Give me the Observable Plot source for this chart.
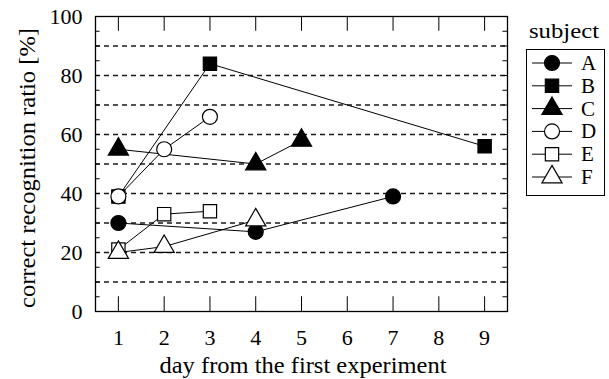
<!DOCTYPE html>
<html>
<head>
<meta charset="utf-8">
<script src="https://cdn.jsdelivr.net/npm/d3@7"></script>
<script src="https://cdn.jsdelivr.net/npm/@observablehq/plot@0.6"></script>
<style>
  body { margin: 0; background: #fff; }
  #wrap { position: relative; width: 609px; height: 379px; }
  #legend { position: absolute; left: 0; top: 0; }
  #chart svg text { font-size: 22px !important; font-family: 'Liberation Serif', 'Times New Roman', Times, serif !important; }
</style>
</head>
<body>
<div id="wrap"><div id="chart"></div><svg id="legend" width="609" height="379"></svg></div>
<script>
// ---- data ----
const subjects = ["A", "B", "C", "D", "E", "F"];
const symbols = ["circle", "square", "triangle", "circle", "square", "triangle"];
const filled = [true, true, true, false, false, false];
const daysA = [1, 4, 7];      const valsA = [30, 27, 39];
const daysB = [1, 3, 9];      const valsB = [39, 84, 56];
const daysC = [1, 4, 5];      const valsC = [55, 50, 58];
const daysD = [1, 2, 3];      const valsD = [39, 55, 66];
const daysE = [1, 2, 3];      const valsE = [21, 33, 34];
const daysF = [1, 2, 4];      const valsF = [20, 22, 31];
const xTicks = [1, 2, 3, 4, 5, 6, 7, 8, 9];
const yTicks = [0, 20, 40, 60, 80, 100];
const gridY = [10, 20, 30, 40, 50, 60, 70, 80, 90];
const minorY = [5, 10, 15, 20, 25, 30, 35, 40, 45, 50, 55, 60, 65, 70, 75, 80, 85, 90, 95];
const xTitle = "day from the first experiment";
const yTitle = "correct recognition ratio [%]";
const legendTitle = "subject";

const series = [[daysA, valsA], [daysB, valsB], [daysC, valsC], [daysD, valsD], [daysE, valsE], [daysF, valsF]];
const data = [];
series.forEach(([ds, vs], i) => ds.forEach((d, j) => data.push({subject: subjects[i], day: d, value: vs[j], fill: filled[i] ? "black" : "white"})));

const font = "'Liberation Serif', 'Times New Roman', Times, serif";

const chart = Plot.plot({
  width: 609,
  height: 379,
  marginLeft: 95,
  marginRight: 102,
  marginTop: 16,
  marginBottom: 68,
  style: {fontFamily: font, fontSize: "22px", color: "black", background: "white", overflow: "visible"},
  x: {domain: [0.5, 9.5], ticks: xTicks, tickSize: 0, tickPadding: 18, tickFormat: d3.format("d"), label: null},
  y: {domain: [0, 100], ticks: yTicks, tickSize: 0, tickPadding: 13, label: null},
  symbol: {domain: subjects, range: symbols},
  color: {type: "identity"},
  marks: [
    Plot.ruleY(gridY, {y: d => d, stroke: "#1a1a1a", strokeWidth: 1.5, strokeDasharray: "5,4"}),
    Plot.ruleX(xTicks, {x: d => d, y1: 100, y2: 95, stroke: "black"}),
    Plot.ruleX(xTicks, {x: d => d, y1: 0, y2: 5, stroke: "black"}),
    Plot.ruleY(minorY, {y: d => d, x1: 0.5, x2: 0.6, stroke: "black"}),
    Plot.ruleY(minorY, {y: d => d, x1: 9.4, x2: 9.5, stroke: "black"}),
    Plot.frame({stroke: "black", strokeWidth: 1.3}),
    Plot.line(data, {x: "day", y: "value", z: "subject", stroke: "black", strokeWidth: 1}),
    Plot.dot(data, {x: "day", y: "value", symbol: "subject", fill: "fill", stroke: "black", strokeWidth: 1.2, r: 7.5})
  ]
});
document.getElementById("chart").appendChild(chart);

// ---- titles & legend ----
const lg = d3.select("#legend").style("font-family", font);
lg.append("text").attr("x", 303).attr("y", 373).attr("text-anchor", "middle").attr("font-size", 23)
  .attr("textLength", 287).attr("lengthAdjust", "spacingAndGlyphs").text(xTitle);
lg.append("text").attr("transform", "translate(35,168) rotate(-90)").attr("text-anchor", "middle").attr("font-size", 23)
  .attr("textLength", 280).attr("lengthAdjust", "spacingAndGlyphs").text(yTitle);
lg.append("text").attr("x", 529).attr("y", 38).attr("font-size", 21)
  .attr("textLength", 70).attr("lengthAdjust", "spacingAndGlyphs").text(legendTitle);
lg.append("rect").attr("x", 526.5).attr("y", 49.5).attr("width", 78).attr("height", 146).attr("fill", "none").attr("stroke", "black");
const symType = {circle: d3.symbolCircle, square: d3.symbolSquare, triangle: d3.symbolTriangle};
subjects.forEach((s, i) => {
  const cy = 63 + i * 22.8;
  lg.append("line").attr("x1", 532).attr("x2", 572).attr("y1", cy).attr("y2", cy).attr("stroke", "black");
  lg.append("path").attr("transform", `translate(552,${cy})`)
    .attr("d", d3.symbol(symType[symbols[i]], Math.PI * 7.5 * 7.5)())
    .attr("fill", filled[i] ? "black" : "white").attr("stroke", "black").attr("stroke-width", 1.2);
  lg.append("text").attr("x", 581).attr("y", cy + 7).attr("font-size", 21).text(s);
});
</script>
</body>
</html>
